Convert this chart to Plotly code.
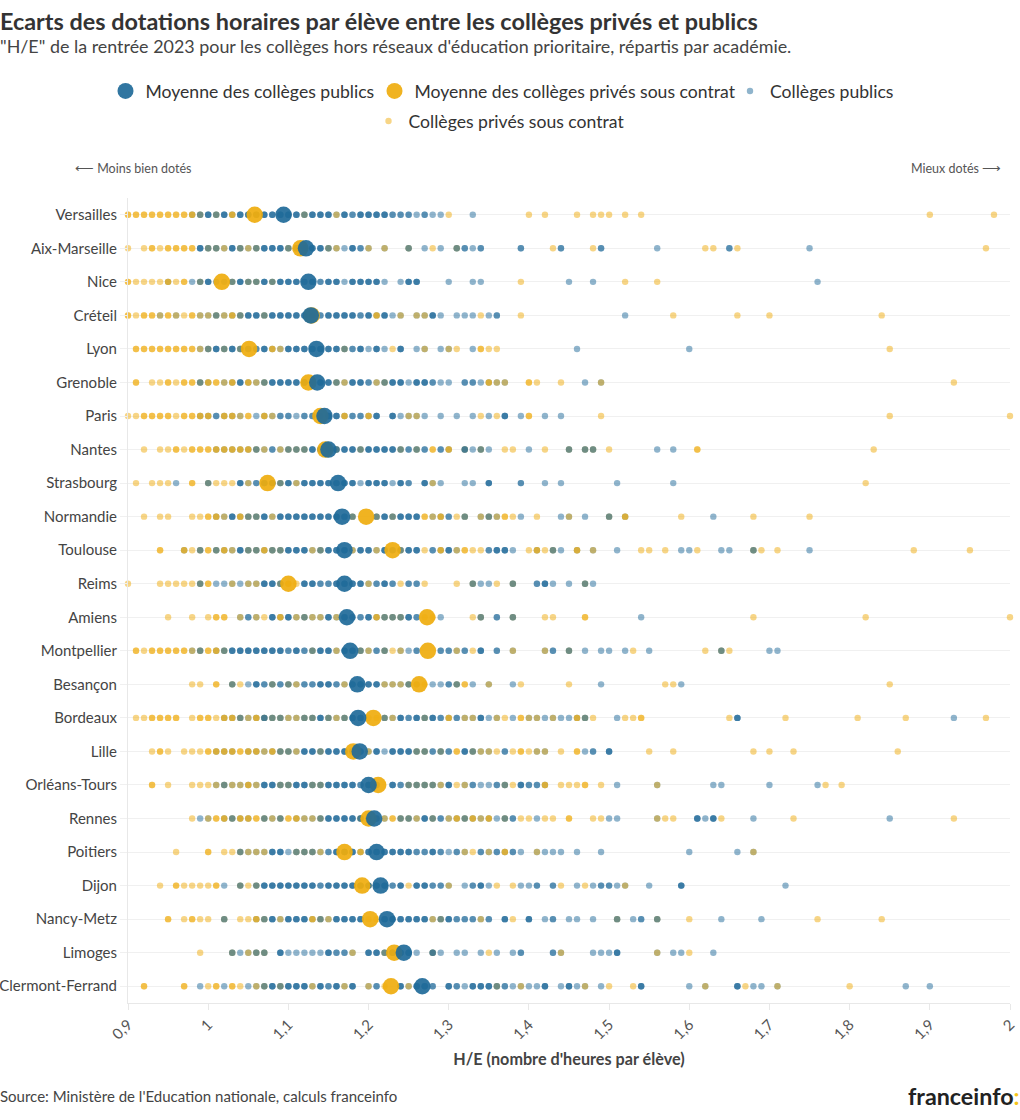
import plotly.graph_objects as go

ACADEMIES = ["Versailles","Aix-Marseille","Nice","Créteil","Lyon","Grenoble","Paris","Nantes","Strasbourg","Normandie","Toulouse","Reims","Amiens","Montpellier","Besançon","Bordeaux","Lille","Orléans-Tours","Rennes","Poitiers","Dijon","Nancy-Metz","Limoges","Clermont-Ferrand"]
MEAN_PUBLIC = [1.094,1.122,1.125,1.128,1.135,1.136,1.145,1.150,1.162,1.167,1.170,1.170,1.173,1.177,1.186,1.187,1.189,1.200,1.207,1.210,1.215,1.223,1.244,1.267]
MEAN_PRIVATE = [1.058,1.115,1.017,1.129,1.051,1.125,1.140,1.146,1.074,1.197,1.230,1.100,1.273,1.274,1.263,1.206,1.181,1.212,1.200,1.170,1.192,1.202,1.232,1.228]

# H/E values in hundredths; a value appears once per college read at that position
VERSAILLES_PUB = [98,99,99,100,100,100,101,101,102,102,102,103,104,104,104,105,105,105,106,106,107,107,107,108,108,108,109,109,109,110,110,110,111,111,111,112,112,113,113,113,114,114,114,115,115,115,116,117,117,117,118,118,119,119,119,120,120,120,121,121,121,122,122,122,123,123,124,124,125,125,126,127,127,128,129,133]
VERSAILLES_PRI = [90,90,91,91,92,92,93,93,94,94,95,95,96,96,97,97,98,98,99,101,103,103,106,112,116,130,140,142,146,148,149,150,152,154,190,198]
AIX_PUB = [99,99,99,100,100,101,101,102,103,103,103,104,104,105,106,106,107,107,107,108,108,108,109,109,109,110,110,111,111,112,112,112,113,113,113,114,114,114,115,115,116,117,118,118,118,119,119,120,122,125,125,127,129,131,131,132,132,133,134,134,139,139,144,144,149,149,156,165,165,175]
AIX_PRI = [90,92,93,93,94,95,95,96,96,97,97,98,98,100,101,102,104,105,106,110,111,115,116,120,122,125,128,131,143,148,162,163,166,197]
NICE_PUB = [95,98,99,99,100,100,100,101,102,103,103,104,104,104,105,105,106,106,107,107,107,108,108,109,109,109,110,110,110,111,111,111,112,112,113,113,113,114,114,115,115,115,116,116,116,117,118,118,118,119,119,119,120,120,120,121,121,121,122,124,125,125,125,126,126,126,130,133,134,145,148,176]
NICE_PRI = [90,90,91,92,93,94,95,95,96,97,97,99,103,105,106,108,139,152,156]
CRETEIL_PUB = [94,96,99,100,101,101,102,103,104,104,105,105,105,106,106,106,107,107,108,108,108,109,109,109,110,110,110,111,111,111,112,112,112,113,113,113,114,114,115,115,115,116,116,116,117,117,117,118,118,118,119,119,120,120,120,121,122,122,122,123,124,126,127,128,128,128,129,131,132,133,135,136,136,152]
CRETEIL_PRI = [90,90,91,92,92,93,93,94,95,95,96,97,98,98,99,100,101,102,103,103,104,107,113,121,121,124,126,127,134,139,158,166,170,184]
LYON_PUB = [99,100,100,101,101,101,102,102,103,103,103,104,104,105,105,106,106,107,107,107,108,109,110,110,110,111,111,111,112,112,112,113,113,113,114,114,114,115,115,115,116,116,116,117,117,118,118,119,119,119,120,121,121,121,122,124,124,124,126,127,129,130,133,146,160]
LYON_PRI = [91,91,92,92,93,93,94,94,95,95,96,96,97,97,98,98,99,100,102,104,108,108,109,117,123,127,130,131,134,134,135,136,185]
GRENOBLE_PUB = [99,99,100,102,103,104,104,104,105,106,107,107,108,108,108,109,109,109,110,110,110,111,111,111,112,112,112,113,113,113,114,114,114,115,115,115,116,116,117,118,118,118,119,119,119,120,120,121,122,122,123,123,123,124,124,124,125,126,126,126,127,127,127,128,128,129,130,132,132,133,133,134,135,136,137,147,149]
GRENOBLE_PRI = [91,91,93,94,95,95,96,97,97,98,98,99,100,100,101,101,102,103,103,105,105,106,107,112,116,117,121,122,135,135,136,137,140,140,141,144,149,193]
PARIS_PUB = [99,100,101,101,102,103,104,106,107,108,109,109,110,110,111,112,112,113,113,114,114,114,115,115,115,116,116,116,117,118,118,119,119,120,121,121,121,123,123,123,124,125,126,127,129,131,133,135,137,137,137,139,142,144]
PARIS_PRI = [90,91,92,92,93,93,94,94,95,95,96,97,97,98,98,99,99,100,100,102,102,103,103,104,105,105,107,107,108,117,117,120,120,125,126,134,136,140,140,149,185,200]
NANTES_PUB = [101,102,103,104,105,106,106,107,108,108,109,110,110,111,111,112,112,113,113,113,114,114,114,115,115,115,116,116,116,117,117,117,118,118,118,119,119,120,120,120,121,121,121,122,122,122,123,123,123,124,124,125,125,126,126,127,127,129,129,130,132,132,132,133,134,134,135,140,145,145,147,147,148,148,156,158]
NANTES_PRI = [92,94,95,96,96,97,98,98,99,99,100,100,101,101,102,102,103,103,104,104,105,105,106,107,109,110,111,112,116,119,124,126,128,128,130,130,132,134,137,138,142,145,147,148,150,161,161,183]
STRASBOURG_PUB = [96,100,100,104,104,104,105,106,106,107,107,107,108,108,108,109,109,110,110,110,111,112,112,112,113,113,113,114,114,114,115,115,115,116,116,116,117,117,117,118,118,118,119,120,120,120,121,121,121,122,122,122,123,124,124,124,125,125,127,127,127,128,129,132,133,135,135,135,139,139,142,144,151,158]
STRASBOURG_PRI = [91,93,94,95,98,98,100,101,102,103,105,109,111,128,182]
NORMANDIE_PUB = [101,102,103,103,103,104,105,105,106,106,107,107,107,108,109,109,109,110,110,110,111,111,111,112,112,112,113,113,113,114,114,114,115,115,115,116,116,116,117,117,117,118,118,121,121,122,122,122,123,123,124,124,124,125,125,125,126,126,126,128,129,130,130,132,132,134,135,135,136,139,144,145,147,150,150,152,163]
NORMANDIE_PRI = [92,94,95,98,99,100,100,101,101,102,104,104,105,106,108,118,121,123,127,127,128,129,129,131,132,134,135,136,137,137,138,141,145,150,152,152,159,168,175]
TOULOUSE_PUB = [97,99,99,101,101,102,103,104,104,104,105,105,106,106,107,108,108,109,109,110,110,110,111,111,111,112,112,112,113,114,114,115,115,115,116,116,116,117,117,117,118,119,119,119,120,120,120,121,122,122,122,123,123,124,124,125,125,125,126,126,126,128,128,129,130,130,130,131,135,135,136,136,136,137,137,137,138,141,143,143,144,146,148,151,159,160,164,165,168,168,175]
TOULOUSE_PRI = [94,94,97,97,98,99,100,100,101,102,102,103,105,106,107,107,108,109,113,114,118,121,124,127,129,129,131,132,132,133,134,140,141,141,142,143,146,146,148,154,155,157,161,168,169,171,188,195]
REIMS_PUB = [99,99,101,102,103,104,105,106,107,107,107,108,108,108,109,109,112,112,112,113,113,113,114,114,115,115,116,116,116,117,117,117,118,118,118,119,119,119,120,121,121,122,122,122,123,123,125,125,126,126,133,133,134,135,138,138,141,141,142,142,142,143,145,147,147,148]
REIMS_PRI = [90,94,95,96,97,98,99,100,100,103,105,106,109,110,110,111,120,124,127,131,133,136,138,147]
AMIENS_PUB = [104,105,105,106,108,108,108,109,110,110,110,111,112,112,113,114,115,115,115,116,117,117,117,118,118,119,119,120,120,120,121,122,122,123,123,124,124,125,125,125,126,126,129,134,134,136,136,138,138,154]
AMIENS_PRI = [95,98,100,101,101,102,102,104,106,107,109,109,111,112,113,114,116,121,121,122,123,124,127,128,133,134,138,142,143,147,147,168,182,200]
MONTPELLIER_PUB = [98,99,99,101,102,102,103,103,103,104,104,104,105,105,105,106,106,106,107,107,107,108,108,108,109,109,109,110,110,111,111,111,112,112,113,113,114,114,114,115,115,115,116,117,117,117,118,118,118,119,119,120,121,121,122,122,124,125,126,126,129,129,130,130,131,132,132,134,134,134,136,136,138,142,143,143,145,145,147,149,150,152,155,164,164,170,171]
MONTPELLIER_PRI = [91,91,92,93,93,94,94,95,95,96,96,97,97,98,99,100,100,101,101,102,113,116,119,120,122,123,124,131,133,138,142,145,153,162,164,165]
BESANCON_PUB = [103,103,105,106,106,106,107,107,108,108,109,109,110,110,111,112,112,113,113,114,114,114,115,115,115,116,116,117,118,118,118,119,119,119,120,120,120,121,121,121,122,123,124,125,125,126,128,129,130,130,131,131,133,135,138,149,159]
BESANCON_PRI = [98,99,101,101,103,104,108,110,111,117,122,123,124,125,126,127,131,132,132,135,139,145,157,158,185]
BORDEAUX_PUB = [102,103,104,104,105,106,107,107,107,108,108,109,109,110,111,112,112,113,113,114,114,114,115,115,116,117,117,118,118,118,119,119,119,122,122,123,124,124,124,125,125,126,126,126,127,127,128,128,128,129,129,130,131,131,132,133,134,134,134,135,136,138,140,141,142,143,144,145,146,147,147,151,166,166,166,193]
BORDEAUX_PRI = [91,92,93,93,94,94,95,95,96,96,98,99,99,100,100,101,102,102,103,103,104,105,106,106,107,108,109,110,111,112,113,115,116,117,120,121,122,123,127,130,130,132,133,136,137,139,139,140,141,143,146,146,147,148,152,153,154,154,165,172,181,187,197]
LILLE_PUB = [101,102,103,105,106,107,108,109,109,110,110,111,112,112,112,113,113,113,114,114,115,115,115,116,116,116,117,117,117,118,118,118,119,119,119,120,121,121,121,122,123,123,123,124,124,124,125,125,125,126,126,127,127,128,128,129,129,130,130,132,132,132,133,133,134,135,137,137,141,142,147,148,148,150,150,150]
LILLE_PRI = [93,94,94,95,97,98,99,100,100,101,101,102,102,103,103,104,104,105,105,106,106,107,108,108,109,110,111,114,120,126,127,129,131,131,133,134,135,136,138,139,139,140,141,142,144,146,146,155,158,168,170,173,186]
ORLEANS_PUB = [101,102,102,103,104,105,106,107,107,107,108,108,108,109,109,110,110,111,111,111,112,112,112,113,113,114,114,115,115,115,116,116,116,117,117,117,118,118,118,119,119,120,120,120,121,121,123,123,123,124,124,125,125,126,126,127,127,128,128,129,130,130,130,132,133,133,134,135,136,136,137,137,139,139,139,140,140,141,141,142,151,156,163,164,170,176]
ORLEANS_PRI = [93,93,95,98,99,100,101,102,103,104,105,105,106,109,110,113,114,120,121,125,126,127,128,129,131,132,137,138,142,142,144,145,146,147,147,149,156,177,179]
RENNES_PUB = [99,100,102,103,103,104,105,107,107,108,109,109,111,112,113,114,114,115,115,115,116,116,116,117,117,117,118,118,118,119,119,119,120,120,120,121,121,122,124,124,125,125,126,127,127,127,128,128,129,129,130,131,132,132,133,134,135,136,137,137,138,138,141,150,151,156,161,161,161,162,163,163,163,168,185]
RENNES_PRI = [98,100,101,101,102,102,103,104,104,105,105,106,106,107,108,109,110,110,111,111,112,113,114,119,120,121,122,123,123,124,125,126,128,130,131,131,132,133,133,134,135,135,137,139,140,142,143,145,145,148,149,156,157,158,164,173,193]
POITIERS_PUB = [104,104,105,106,107,108,108,108,109,109,109,110,111,111,112,112,113,113,114,115,115,116,116,116,117,117,117,118,118,118,119,120,120,120,121,121,121,122,122,122,123,123,123,124,124,124,125,125,125,126,126,127,127,128,128,128,129,129,130,131,131,132,134,134,135,136,136,137,138,138,139,141,142,143,144,146,149,160,166,168]
POITIERS_PRI = [96,100,100,102,103,104,105,106,107,111,112,113,114,117,119,119,132,133,135,137,137,141,168]
DIJON_PUB = [102,104,104,106,106,107,107,107,108,108,108,109,109,109,110,110,110,111,111,111,112,112,112,113,113,113,114,114,115,115,115,116,116,116,117,117,117,118,118,118,119,119,119,120,120,120,121,121,121,122,122,122,123,123,124,124,124,126,126,126,127,127,127,128,128,129,129,130,132,133,133,134,134,134,135,139,140,141,141,143,143,146,148,149,149,150,150,151,152,155,159,159,159,172]
DIJON_PRI = [94,96,96,97,98,99,100,101,101,104,105,106,119,120,125,130,136,138,144,147,152]
NANCY_PUB = [102,102,106,107,107,108,108,108,109,110,110,110,111,111,111,112,112,112,113,114,114,115,116,116,116,117,117,117,118,118,118,119,119,119,122,122,122,123,123,123,124,124,124,125,125,125,126,126,126,127,127,127,128,129,129,130,130,130,131,131,132,132,133,133,134,135,135,137,137,137,140,140,140,142,143,143,145,146,148,151,151,153,154,154,156,156,164,169]
NANCY_PRI = [95,95,97,98,98,99,100,102,104,105,106,106,107,109,113,113,114,115,120,121,128,129,134,138,151,156,160,176,184]
LIMOGES_PUB = [103,103,104,105,106,106,107,107,109,109,109,110,111,112,113,114,115,115,115,116,116,117,117,118,120,120,120,121,121,121,122,122,123,123,123,124,124,124,125,125,125,126,128,128,128,129,131,132,134,136,138,139,139,143,143,144,148,149,150,151,151,151,156,158,159,163]
LIMOGES_PRI = [99,103,105,106,107,118,122,123,124,128,135,144,156,160]
CLERMONT_PUB = [99,102,105,106,107,107,108,108,108,109,109,110,110,110,111,111,111,112,112,112,113,114,114,114,115,115,116,116,116,117,118,118,118,120,121,121,124,124,124,125,126,126,126,127,127,127,128,128,130,130,130,131,131,132,133,133,133,134,134,134,135,135,135,136,136,137,137,138,139,140,141,142,142,142,144,145,145,145,146,147,149,154,154,154,160,162,166,166,166,168,169,171,187,190]
CLERMONT_PRI = [92,92,97,97,100,101,101,103,103,104,106,107,109,113,117,120,122,125,136,139,147,150,153,162,167,171,180]

PUBLIC_ROWS = [VERSAILLES_PUB,AIX_PUB,NICE_PUB,CRETEIL_PUB,LYON_PUB,GRENOBLE_PUB,PARIS_PUB,NANTES_PUB,STRASBOURG_PUB,NORMANDIE_PUB,TOULOUSE_PUB,REIMS_PUB,AMIENS_PUB,MONTPELLIER_PUB,BESANCON_PUB,BORDEAUX_PUB,LILLE_PUB,ORLEANS_PUB,RENNES_PUB,POITIERS_PUB,DIJON_PUB,NANCY_PUB,LIMOGES_PUB,CLERMONT_PUB]
PRIVATE_ROWS = [VERSAILLES_PRI,AIX_PRI,NICE_PRI,CRETEIL_PRI,LYON_PRI,GRENOBLE_PRI,PARIS_PRI,NANTES_PRI,STRASBOURG_PRI,NORMANDIE_PRI,TOULOUSE_PRI,REIMS_PRI,AMIENS_PRI,MONTPELLIER_PRI,BESANCON_PRI,BORDEAUX_PRI,LILLE_PRI,ORLEANS_PRI,RENNES_PRI,POITIERS_PRI,DIJON_PRI,NANCY_PRI,LIMOGES_PRI,CLERMONT_PRI]

X_TICKS = [0.9,1.0,1.1,1.2,1.3,1.4,1.5,1.6,1.7,1.8,1.9,2.0]
X_LABELS = ["0,9","1","1,1","1,2","1,3","1,4","1,5","1,6","1,7","1,8","1,9","2"]

BLUE = "#1f6a99"
YELLOW = "#efac0e"
FONT = "Lato"
DOT = 6.4
MEAN = 16.5
PLOT_W = 882.5
PLOT_H = 805.5
BOTTOM = 1003

# first public college at a value sits under the private ones, further ones over them
pub_under_x, pub_under_y, pub_over_x, pub_over_y, pri_x, pri_y = [], [], [], [], [], []
for name, pubs, pris in zip(ACADEMIES, PUBLIC_ROWS, PRIVATE_ROWS):
    seen = set()
    for v in pubs:
        if v in seen:
            pub_over_x.append(v / 100); pub_over_y.append(name)
        else:
            seen.add(v)
            pub_under_x.append(v / 100); pub_under_y.append(name)
    for v in pris:
        pri_x.append(v / 100); pri_y.append(name)

fig = go.Figure()
dot_style = lambda c: dict(color=c, size=DOT, opacity=0.5, line=dict(width=0))
mean_style = lambda c: dict(color=c, size=MEAN, opacity=0.92, line=dict(width=0))
fig.add_trace(go.Scatter(x=pub_under_x, y=pub_under_y, mode="markers", name="Collèges publics", legendgroup="pub", legend="legend3", marker=dot_style(BLUE), cliponaxis=False))
fig.add_trace(go.Scatter(x=pri_x, y=pri_y, mode="markers", name="Collèges privés sous contrat", legend="legend4", marker=dot_style(YELLOW), cliponaxis=False))
fig.add_trace(go.Scatter(x=pub_over_x, y=pub_over_y, mode="markers", name="Collèges publics", legendgroup="pub", showlegend=False, marker=dot_style(BLUE), cliponaxis=False))
fig.add_trace(go.Scatter(x=MEAN_PRIVATE, y=ACADEMIES, mode="markers", name="Moyenne des collèges privés sous contrat", legend="legend2", marker=mean_style(YELLOW), cliponaxis=False))
fig.add_trace(go.Scatter(x=MEAN_PUBLIC, y=ACADEMIES, mode="markers", name="Moyenne des collèges publics", legend="legend", marker=mean_style(BLUE), cliponaxis=False))

def legend_at(left_px, center_y_px):
    return dict(xref="container", yref="container", x=left_px / 1020, xanchor="left",
                y=1 - center_y_px / 1120, yanchor="middle", itemsizing="trace",
                bgcolor="rgba(0,0,0,0)", font=dict(size=17.6, color="#333333", family=FONT))

def page_x(px):
    return (px - 127.5) / PLOT_W

def page_y(px):
    return (BOTTOM - px) / PLOT_H

fig.update_layout(
    width=1020, height=1120, autosize=False,
    margin=dict(l=127.5, r=10, t=197.5, b=117, autoexpand=False),
    paper_bgcolor="white", plot_bgcolor="white",
    font=dict(family=FONT, color="#444444", size=14),
    title=dict(text="<b>Ecarts des dotations horaires par élève entre les collèges privés et publics</b>",
               x=0, xanchor="left", xref="container", y=1 - 22 / 1120, yanchor="middle", yref="container",
               font=dict(family=FONT, size=23.4, color="#333333")),
    legend=legend_at(105.5, 91),
    legend2=legend_at(374.5, 91),
    legend3=legend_at(730, 91),
    legend4=legend_at(368.5, 121),
    xaxis=dict(range=[0.9, 2.0], tickmode="array", tickvals=X_TICKS, ticktext=X_LABELS, tickangle=-45,
               showgrid=False, zeroline=False, showline=True, linecolor="#e8e8e8", linewidth=1,
               ticks="outside", ticklen=6, tickcolor="#e8e8e8", tickfont=dict(size=15, color="#555555"),
               title=dict(text="<b>H/E (nombre d'heures par élève)</b>", font=dict(size=16.2, color="#444444"), standoff=12)),
    yaxis=dict(type="category", categoryorder="array", categoryarray=ACADEMIES, range=[23.5, -0.5],
               showgrid=True, gridcolor="#f0f0f0", gridwidth=1, zeroline=False, showline=True, linecolor="#e8e8e8", linewidth=1,
               ticks="outside", ticklen=7, tickcolor="#f0f0f0", tickfont=dict(size=15, color="#444444")),
    annotations=[
        dict(text="\"H/E\" de la rentrée 2023 pour les collèges hors réseaux d'éducation prioritaire, répartis par académie.",
             xref="paper", yref="paper", x=page_x(-3), xanchor="left", y=page_y(45), yanchor="middle", showarrow=False, font=dict(size=17.9, color="#444444")),
        dict(text="⟵ Moins bien dotés", xref="paper", yref="paper", x=page_x(72), xanchor="left", y=page_y(168), yanchor="middle", showarrow=False, font=dict(size=12.5, color="#555555")),
        dict(text="Mieux dotés ⟶", xref="paper", yref="paper", x=page_x(1003), xanchor="right", y=page_y(168), yanchor="middle", showarrow=False, font=dict(size=12.5, color="#555555")),
        dict(text="Source: Ministère de l'Education nationale, calculs franceinfo", xref="paper", yref="paper", x=page_x(-3), xanchor="left", y=page_y(1096), yanchor="middle", showarrow=False, font=dict(size=15, color="#444444")),
        dict(text="<b>franceinfo<span style=\"color:#f5c518\">:</span></b>", xref="paper", yref="paper", x=page_x(1022), xanchor="right", y=page_y(1096), yanchor="middle", showarrow=False, font=dict(size=23.3, color="#222222")),
    ],
)
fig.write_html("out.html", config={"displayModeBar": False}, post_script="document.body.style.margin='0';")
